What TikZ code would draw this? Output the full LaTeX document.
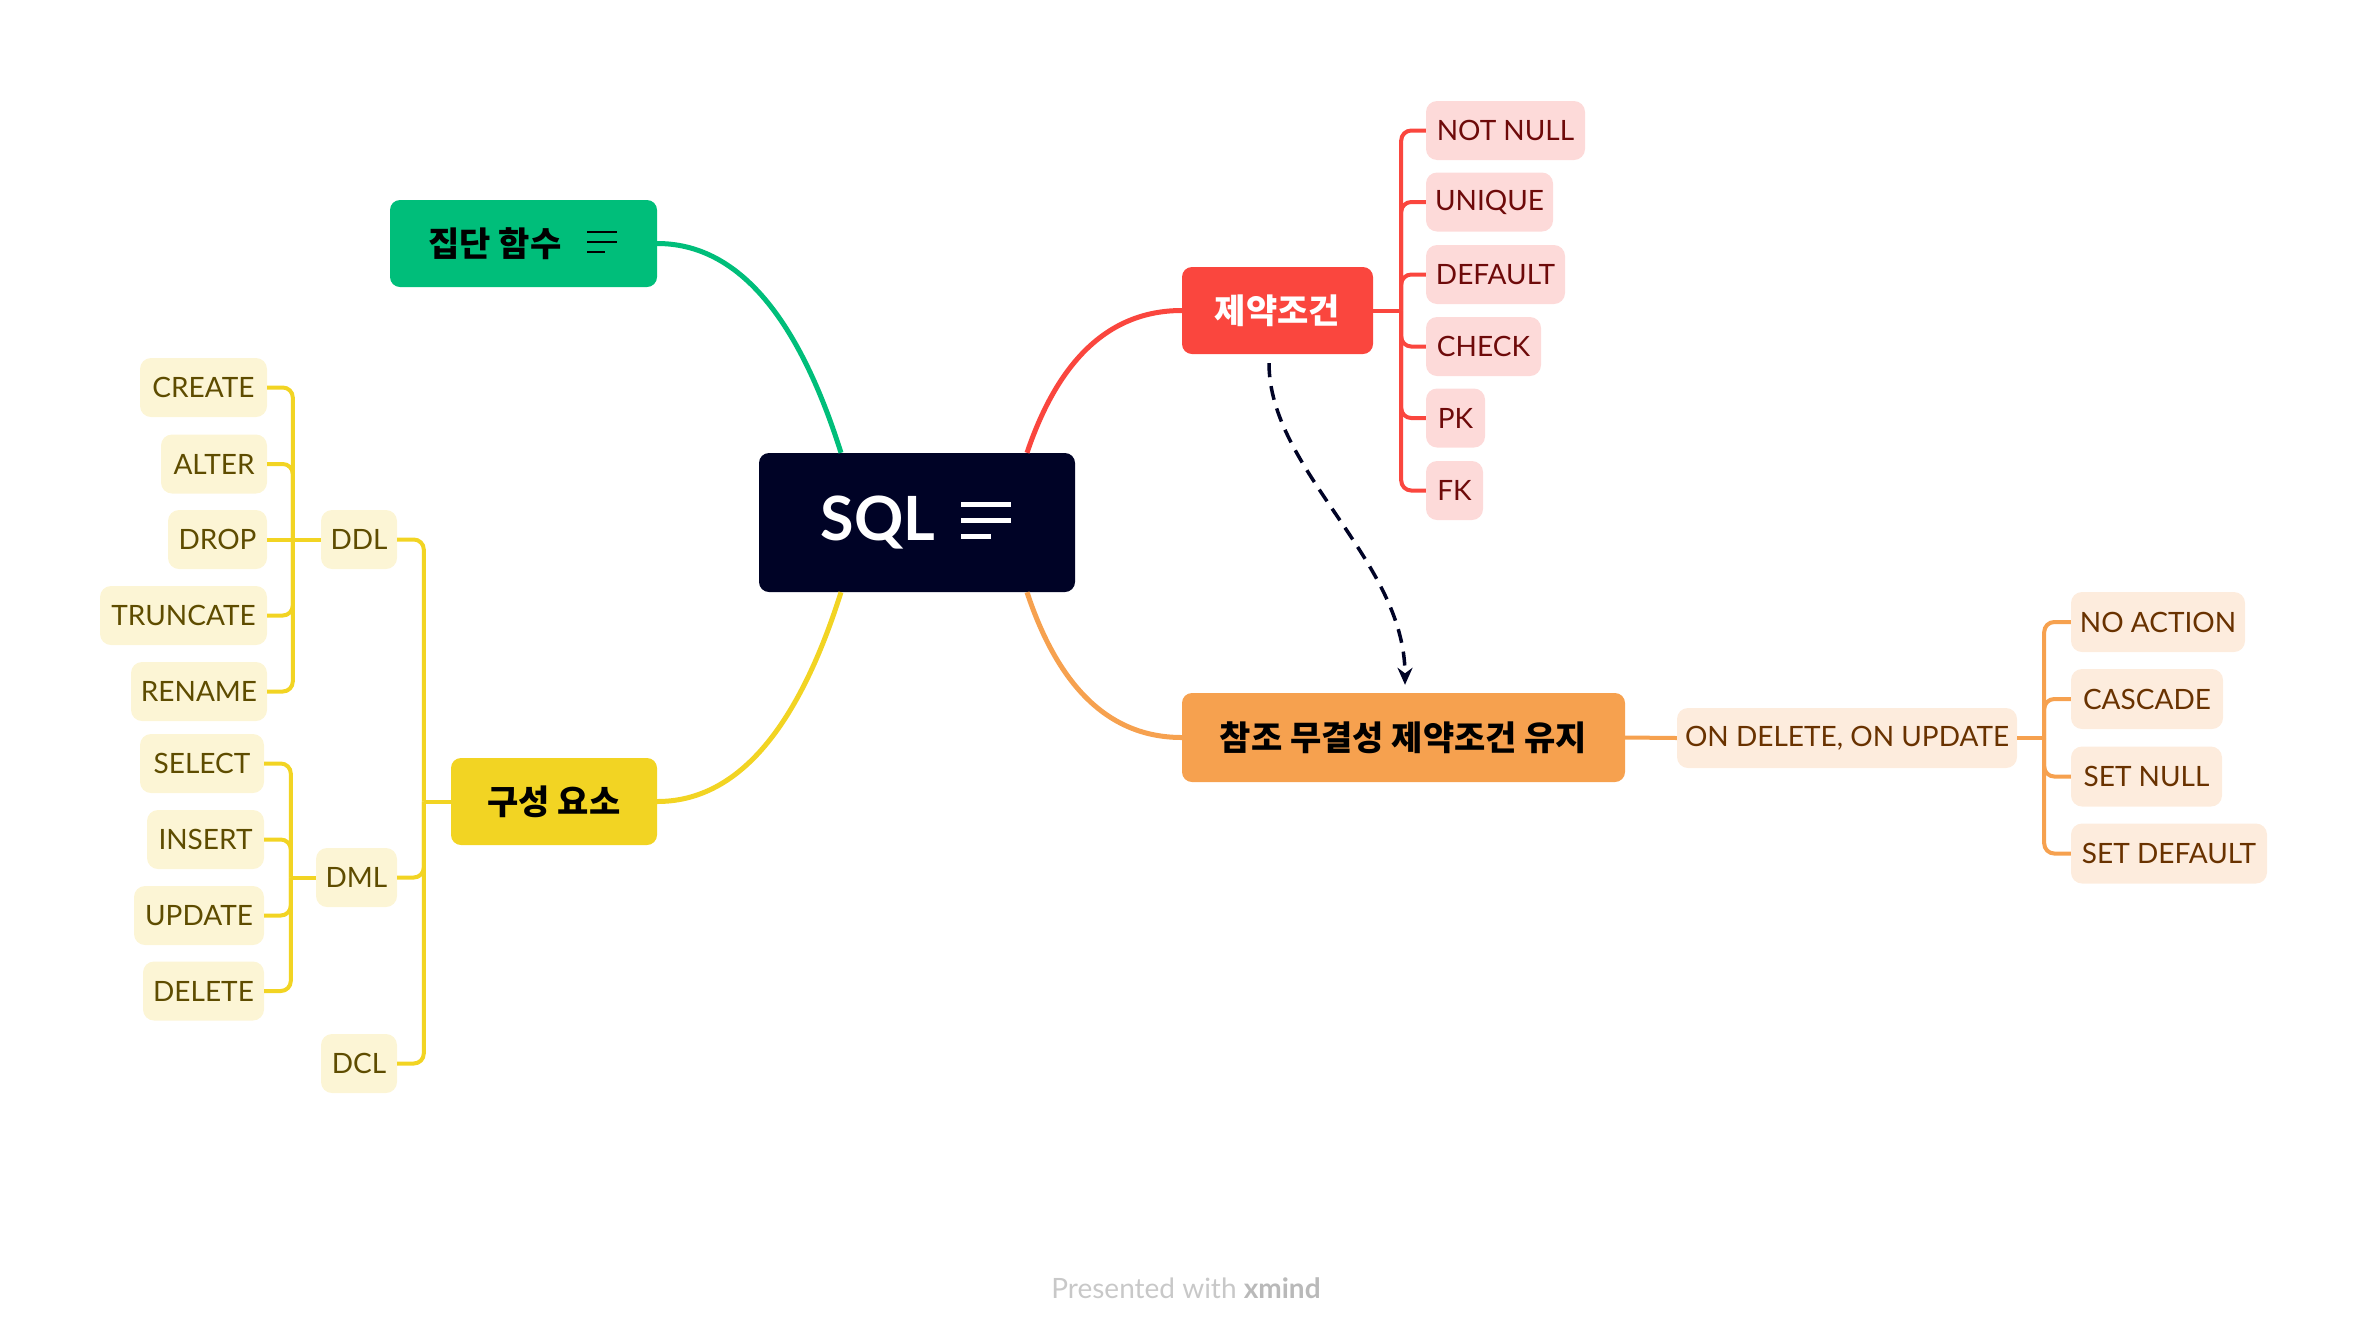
\documentclass[tikz,border=0pt]{standalone}
\usepackage{fontspec}
\setmainfont{Lato}
\newfontfamily\kr{Noto Sans CJK KR}
\usetikzlibrary{arrows.meta}
\definecolor{navy}{RGB}{0,3,38}
\definecolor{xgreen}{RGB}{0,190,122}
\definecolor{xyellow}{RGB}{242,212,35}
\definecolor{xred}{RGB}{250,70,62}
\definecolor{xorange}{RGB}{246,161,79}
\definecolor{ylfill}{RGB}{252,245,213}
\definecolor{ytext}{RGB}{94,76,0}
\definecolor{rdfill}{RGB}{253,218,217}
\definecolor{rtext}{RGB}{110,10,10}
\definecolor{orfill}{RGB}{253,236,221}
\definecolor{otext}{RGB}{105,50,0}
\definecolor{pgray}{RGB}{200,200,200}
\definecolor{pgrayb}{RGB}{185,185,185}
\begin{document}
\begin{tikzpicture}[x=1pt,y=-1pt,
  topic/.style={rounded corners=10pt, inner sep=0pt, minimum height=87pt, font=\kr\bfseries\fontsize{34}{40}\selectfont},
  sub/.style={rounded corners=11pt, inner sep=0pt, minimum height=59pt, font=\fontsize{28}{32}\selectfont},
  ysub/.style={sub, fill=ylfill, text=ytext},
  rsub/.style={sub, fill=rdfill, text=rtext},
  osub/.style={sub, fill=orfill, text=otext},
  mainline/.style={line width=5pt},
  yline/.style={xyellow, line width=4pt, rounded corners=10pt},
  rline/.style={xred, line width=4pt, rounded corners=10pt},
  oline/.style={xorange, line width=4pt, rounded corners=10pt},
]
\useasboundingbox (0,0) rectangle (2368,1334);

% central topic
\node[fill=navy, rounded corners=10pt, inner sep=0pt, minimum width=316pt, minimum height=139pt,
      text=white, font=\bfseries\fontsize{61}{70}\selectfont] (sql) at (917,522.5) {SQL\kern78pt\relax};
\draw[white, line width=5pt] ([xshift=44pt,yshift=18.5pt]sql.center) -- ++(50,0);
\draw[white, line width=5pt] ([xshift=44pt,yshift=2.5pt]sql.center) -- ++(50,0);
\draw[white, line width=5pt] ([xshift=44pt,yshift=-13.5pt]sql.center) -- ++(30,0);

% main topics
\node[topic, fill=xgreen, minimum width=267pt, text=black] (agg) at (523.5,243.5) {집단 함수\kern57pt\relax};
\draw[black, line width=2.6pt] ([xshift=63.5pt,yshift=11.5pt]agg.center) -- ++(30,0);
\draw[black, line width=2.6pt] ([xshift=63.5pt,yshift=1.5pt]agg.center) -- ++(30,0);
\draw[black, line width=2.6pt] ([xshift=63.5pt,yshift=-8.5pt]agg.center) -- ++(18,0);

\node[topic, fill=xyellow, minimum width=206pt, text=black] (comp) at (554,801.5) {구성 요소};
\node[topic, fill=xred, minimum width=191pt, text=white] (cons) at (1277.5,310.5) {제약조건};
\node[topic, fill=xorange, minimum width=443pt, minimum height=89pt, text=black] (ref) at (1403.5,737.5) {참조 무결성 제약조건 유지};

% main connectors
\draw[mainline, xgreen] ([xshift=-76pt]sql.north) .. controls (797,313.3) and (735.7,243.5) .. (agg.east);
\draw[mainline, xyellow] ([xshift=-76pt]sql.south) .. controls (797,731.7) and (735.7,801.5) .. (comp.east);
\draw[mainline, xred] ([xshift=110pt]sql.north) .. controls (1059,358) and (1110.7,310.5) .. (cons.west);
\draw[mainline, xorange] ([xshift=110pt]sql.south) .. controls (1059,689) and (1110.7,737.5) .. (ref.west);

% yellow subtopics
\node[ysub, minimum width=76pt] (ddl) at (359,539.5) {DDL};
\node[ysub, minimum width=81pt] (dml) at (356.5,877.5) {DML};
\node[ysub, minimum width=76pt] (dcl) at (359,1063.5) {DCL};
\node[ysub, minimum width=127pt] (create) at (203.5,387.5) {CREATE};
\node[ysub, minimum width=106pt] (alter) at (214,464) {ALTER};
\node[ysub, minimum width=99pt] (drop) at (217.5,539.5) {DROP};
\node[ysub, minimum width=167pt] (truncate) at (183.5,615.5) {TRUNCATE};
\node[ysub, minimum width=136pt] (rename) at (199,691.5) {RENAME};
\node[ysub, minimum width=124pt] (select) at (202,763.5) {SELECT};
\node[ysub, minimum width=117pt] (insert) at (205.5,839.5) {INSERT};
\node[ysub, minimum width=130pt] (update) at (199,915.5) {UPDATE};
\node[ysub, minimum width=121pt] (delete) at (203.5,991) {DELETE};

\draw[yline] (comp.west) -- ++(-27,0) coordinate (jc);
\foreach \c in {ddl,dml,dcl} \draw[yline] (jc) |- (\c.east);
\draw[yline] (ddl.west) -- ++(-28,0) coordinate (jd);
\foreach \c in {create,alter,truncate,rename} \draw[yline] (jd) |- (\c.east);
\draw[yline] (jd) -- (drop.east);
\draw[yline] (dml.west) -- ++(-25,0) coordinate (jm);
\foreach \c in {select,insert,update,delete} \draw[yline] (jm) |- (\c.east);

% red subtopics
\node[rsub, minimum width=159pt] (nn) at (1505.5,130.5) {NOT NULL};
\node[rsub, minimum width=127pt] (uq) at (1489.5,202) {UNIQUE};
\node[rsub, minimum width=139pt] (df) at (1495.5,274.5) {DEFAULT};
\node[rsub, minimum width=115pt] (ck) at (1483.5,346.5) {CHECK};
\node[rsub, minimum width=59pt] (pk) at (1455.5,418) {PK};
\node[rsub, minimum width=57pt] (fk) at (1454.5,490.5) {FK};
\draw[rline] (cons.east) -- ++(28,0) coordinate (jr);
\foreach \c in {nn,uq,df,ck,pk,fk} \draw[rline] (jr) |- (\c.west);

% orange subtopics
\node[osub, minimum width=340pt, minimum height=60pt] (ondel) at (1847,738) {ON DELETE, ON UPDATE};
\node[osub, minimum width=174pt, minimum height=60pt] (noact) at (2158,622) {NO ACTION};
\node[osub, minimum width=152pt, minimum height=60pt] (casc) at (2147,699) {CASCADE};
\node[osub, minimum width=151pt, minimum height=60pt] (snull) at (2146.5,776.5) {SET NULL};
\node[osub, minimum width=196pt, minimum height=60pt] (sdef) at (2169,853.5) {SET DEFAULT};
\draw[oline] (ref.east) -- (ondel.west);
\draw[oline] (ondel.east) -- ++(27,0) coordinate (jo);
\foreach \c in {noact,casc,snull,sdef} \draw[oline] (jo) |- (\c.west);

% relationship
\draw[navy, line width=3.5pt, dash pattern=on 14pt off 9pt, -{Stealth[length=17pt,width=15pt]}]
  ([xshift=-8.5pt,yshift=-9pt]cons.south) .. controls (1269,470) and (1405,560) .. ([xshift=1.5pt,yshift=8pt]ref.north);

% footer
\node[font=\fontsize{28}{32}\selectfont, text=pgray] (foot) at (1186,1288) {Presented with \textcolor{pgrayb}{\bfseries xmind}};
\end{tikzpicture}
\end{document}
